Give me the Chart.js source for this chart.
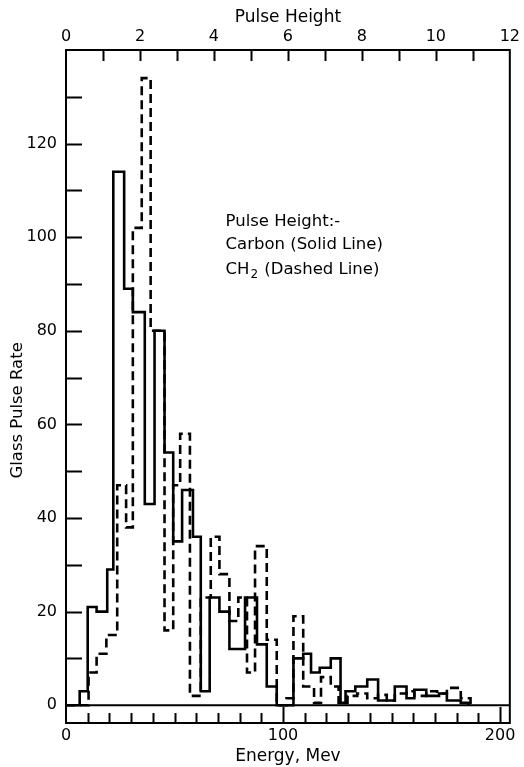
<!DOCTYPE html>
<html>
<head>
<meta charset="utf-8">
<script src="https://cdn.jsdelivr.net/npm/chart.js@4.4.1/dist/chart.umd.min.js"></script>
<style>
  html, body { margin: 0; padding: 0; background: #fff; }
  #wrap { width: 524px; height: 767px; }
</style>
</head>
<body>
<div id="wrap"><canvas id="pulse-chart" width="524" height="767"></canvas></div>
<script>
// Histogram bin edges (Mev) and glass pulse rate per bin
const carbonEdges = [0, 6.3, 10.0, 14.1, 19.0, 21.8, 26.8, 30.8, 36.3, 40.8,
  45.4, 49.4, 53.5, 58.5, 62.1, 66.2, 70.7, 75.3, 82.5, 88.0,
  92.5, 97.1, 104.8, 109.3, 112.9, 116.9, 122.0, 126.5, 128.8, 133.3,
  138.8, 143.8, 151.5, 156.9, 160.5, 166.0, 171.9, 175.5, 181.9, 185.5];
const carbonRates = [0, 3, 21, 20, 29, 114, 89, 84, 43, 80,
  54, 35, 46, 36, 3, 23, 20, 12, 23, 13,
  4, 0, 10, 11, 7, 8, 10, 0.5, 3, 4,
  5.5, 1, 4, 1.5, 3.3, 2, 2.5, 1, 0.5];

const ch2Edges = [0, 10.4, 14.1, 18.6, 23.6, 27.7, 30.8, 34.9, 39.0, 45.4,
  49.4, 52.6, 57.1, 62.1, 66.7, 70.7, 75.3, 79.4, 83.4, 87.1,
  92.5, 97.1, 101.6, 104.8, 109.3, 114.3, 117.5, 122.0, 125.6, 129.7,
  134.2, 138.8, 143.8, 147.8, 151.5, 156.9, 160.5, 166.0, 171.0, 175.5,
  181.9, 186.4];
const ch2Rates = [0, 7, 11, 15, 47, 38, 102, 134, 80, 16,
  47, 58, 2, 23, 36, 28, 18, 23, 7, 34,
  14, 0, 1.5, 19, 4, 0.5, 6, 4, 0.5, 2,
  2.5, 1.5, 2.2, 1, 2.5, 3, 2, 3, 2.5, 3.7,
  1.5];

const energyTicks = [0, 100, 200];
const pulseHeightTicks = [0, 2, 4, 6, 8, 10, 12];
const rateTicks = [0, 20, 40, 60, 80, 100, 120];

const FONT = "'DejaVu Sans', sans-serif";

// turn edges + rates into points for a stepped line that ends on the baseline
function stepPoints(edges, rates) {
    const pts = rates.map((r, i) => ({ x: edges[i], y: r }));
    pts.push({ x: edges[edges.length - 1], y: 0 });
    return pts;
}

function line(ctx, x1, y1, x2, y2) {
    ctx.beginPath();
    ctx.moveTo(x1, y1);
    ctx.lineTo(x2, y2);
    ctx.stroke();
}

// frame, inward tick marks, zero line, y title and the note
const framePlugin = {
    id: 'frame',
    afterDatasetsDraw(chart) {
        const { ctx, chartArea: a, scales } = chart;
        const xs = scales.x, tops = scales.x2, ys = scales.y;
        ctx.save();
        ctx.strokeStyle = '#000';
        ctx.lineWidth = 2;
        ctx.lineCap = 'butt';
        ctx.strokeRect(a.left, a.top, a.right - a.left, a.bottom - a.top);

        const y0 = ys.getPixelForValue(0);
        line(ctx, a.left, y0, a.right, y0);

        for (let v = 10; v < 140; v += 10) {
            const yp = Math.round(ys.getPixelForValue(v)) + 0.5;
            line(ctx, a.left, yp, a.left + 16, yp);
        }
        for (let e = 10; e <= 200; e += 10) {
            const xp = Math.round(xs.getPixelForValue(e)) + 0.5;
            const len = e % 100 === 0 ? 16 : 10;
            line(ctx, xp, a.bottom, xp, a.bottom - len);
        }
        for (let p = 1; p < 12; p++) {
            const xp = Math.round(tops.getPixelForValue(p)) + 0.5;
            line(ctx, xp, a.top, xp, a.top + 11);
        }

        ctx.fillStyle = '#000';
        ctx.textBaseline = 'middle';

        // y axis title, sitting a little below the middle as in the original
        ctx.save();
        ctx.font = '16.5px ' + FONT;
        ctx.textAlign = 'center';
        ctx.translate(18, ys.getPixelForValue(63));
        ctx.rotate(-Math.PI / 2);
        ctx.fillText('Glass Pulse Rate', 0, 0);
        ctx.restore();

        // note inside the plot
        ctx.font = '16.5px ' + FONT;
        ctx.textAlign = 'left';
        const tx = xs.getPixelForValue(73.5);
        ctx.fillText('Pulse Height:-', tx, ys.getPixelForValue(103.3));
        ctx.fillText('Carbon (Solid Line)', tx, ys.getPixelForValue(98.4));
        const y3 = ys.getPixelForValue(93.0);
        ctx.fillText('CH', tx, y3);
        const w = ctx.measureText('CH').width;
        ctx.font = '12px ' + FONT;
        ctx.fillText('2', tx + w + 1, y3 + 5);
        const w2 = ctx.measureText('2').width;
        ctx.font = '16.5px ' + FONT;
        ctx.fillText(' (Dashed Line)', tx + w + w2 + 2, y3);
        ctx.restore();
    }
};

const tickFont = { family: FONT, size: 16 };
const titleFont = { family: FONT, size: 17 };

new Chart(document.getElementById('pulse-chart').getContext('2d'), {
    type: 'line',
    data: {
        datasets: [
            {
                label: 'Carbon',
                data: stepPoints(carbonEdges, carbonRates),
                xAxisID: 'x',
                borderColor: '#000',
                borderWidth: 2.6,
                stepped: 'before',
                pointRadius: 0,
                fill: false
            },
            {
                label: 'CH2',
                data: stepPoints(ch2Edges, ch2Rates),
                xAxisID: 'x',
                borderColor: '#000',
                borderWidth: 2.6,
                borderDash: [9, 5],
                stepped: 'before',
                pointRadius: 0,
                fill: false
            }
        ]
    },
    options: {
        responsive: false,
        animation: false,
        layout: { padding: { left: 0, right: 7, top: 0, bottom: 0 } },
        plugins: { legend: { display: false }, tooltip: { enabled: false } },
        scales: {
            x: {
                type: 'linear',
                position: 'bottom',
                min: 0,
                max: 204.5,
                afterBuildTicks: s => { s.ticks = energyTicks.map(v => ({ value: v })); },
                afterFit: s => { s.height = 44; },
                grid: { display: false, drawTicks: false },
                border: { display: false },
                ticks: { color: '#000', font: tickFont, padding: 3, maxRotation: 0 },
                title: { display: true, text: 'Energy, Mev', color: '#000', font: titleFont, padding: { top: 0, bottom: 0 } }
            },
            x2: {
                type: 'linear',
                position: 'top',
                min: 0,
                max: 12,
                afterBuildTicks: s => { s.ticks = pulseHeightTicks.map(v => ({ value: v })); },
                afterFit: s => { s.height = 50; },
                grid: { display: false, drawTicks: false },
                border: { display: false },
                ticks: { color: '#000', font: tickFont, padding: 4, maxRotation: 0 },
                title: { display: true, text: 'Pulse Height', color: '#000', font: titleFont, padding: { top: 7, bottom: 0 } }
            },
            y: {
                min: -3.8,
                max: 140,
                afterBuildTicks: s => { s.ticks = rateTicks.map(v => ({ value: v })); },
                afterFit: s => { s.width = 66; },
                grid: { display: false, drawTicks: false },
                border: { display: false },
                ticks: { color: '#000', font: tickFont, padding: 9 },
                title: { display: false }
            }
        }
    },
    plugins: [framePlugin]
});
</script>
</body>
</html>
